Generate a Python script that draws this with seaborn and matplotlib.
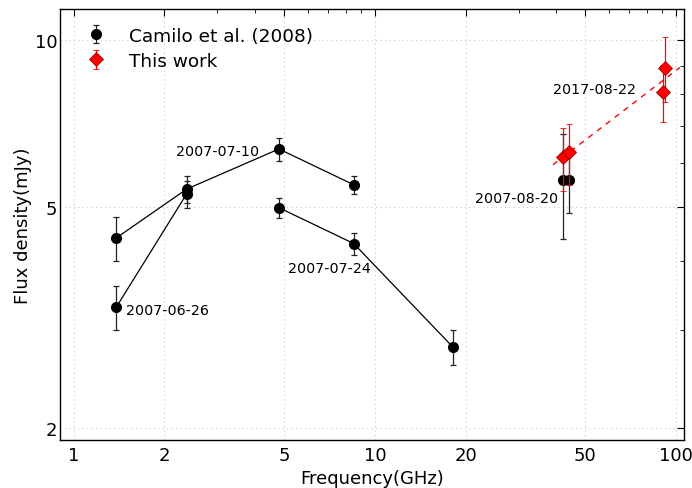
import numpy as np
import pandas as pd
import matplotlib
matplotlib.use("Agg")
import matplotlib.pyplot as plt
import seaborn as sns
from matplotlib.ticker import FixedLocator, FixedFormatter, NullFormatter

# ---- data ----
epochs = ["2007-06-26", "2007-07-10", "2007-07-24", "2007-08-20"]
freq_0626 = [1.384, 2.368]
flux_0626 = [3.30, 5.28]
err_0626 = [0.30, 0.30]
freq_0710 = [1.384, 2.368, 4.8, 8.5]
flux_0710 = [4.40, 5.39, 6.37, 5.49]
err_0710 = [0.40, 0.30, 0.30, 0.20]
freq_0724 = [4.8, 8.5, 18.1]
flux_0724 = [4.99, 4.30, 2.80]
err_0724 = [0.20, 0.20, 0.20]
freq_0820 = [42.0, 44.0]
flux_0820 = [5.59, 5.59]
err_0820 = [1.20, 0.70]
freq_this = [42.0, 44.0, 90.5, 92.0]
flux_this = [6.15, 6.28, 8.08, 8.93]
err_this = [0.80, 0.80, 0.95, 1.20]

x_ticks = [1, 2, 5, 10, 20, 50, 100]
y_ticks = [2, 5, 10]
legend_labels = ["Camilo et al. (2008)", "This work"]

sns.set_style("white")
plt.rcParams["font.family"] = ["DejaVu Sans"]
plt.rcParams["text.color"] = "black"
plt.rcParams["axes.labelcolor"] = "black"
plt.rcParams["xtick.color"] = "black"
plt.rcParams["ytick.color"] = "black"

fig = plt.figure(figsize=(6.92, 4.89), dpi=100)
ax = fig.add_axes([0.0867, 0.0982, 0.9013, 0.8814])

# connecting lines for Camilo epochs
lines_df = pd.concat([
    pd.DataFrame({"freq": freq_0626, "flux": flux_0626, "epoch": epochs[0]}),
    pd.DataFrame({"freq": freq_0710, "flux": flux_0710, "epoch": epochs[1]}),
    pd.DataFrame({"freq": freq_0724, "flux": flux_0724, "epoch": epochs[2]}),
])
sns.lineplot(data=lines_df, x="freq", y="flux", hue="epoch", units="epoch",
             estimator=None, palette=["black"] * 3, linewidth=0.9, ax=ax,
             legend=False)

# Camilo points with error bars
cam_kw = dict(fmt="o", color="black", ecolor="#222222", markersize=7,
              elinewidth=0.9, capsize=2.5, capthick=0.9, zorder=3)
first = True
for f, s, e in [(freq_0626, flux_0626, err_0626), (freq_0710, flux_0710, err_0710),
                (freq_0724, flux_0724, err_0724), (freq_0820, flux_0820, err_0820)]:
    ax.errorbar(f, s, yerr=e, label=legend_labels[0] if first else None, **cam_kw)
    first = False

# this work points
ax.errorbar(freq_this, flux_this, yerr=err_this, fmt="D", color="red",
            markeredgecolor="#990000", markeredgewidth=0.6, ecolor="red",
            markersize=7, elinewidth=0.9, capsize=2.5, capthick=0.9, zorder=4,
            label=legend_labels[1])

# power-law fit to this work
lf = np.log10(freq_this)
ls = np.log10(flux_this)
slope, icpt = np.polyfit(lf, ls, 1)
fx = np.logspace(np.log10(39.0), np.log10(103.0), 50)
sns.lineplot(x=fx, y=10 ** (icpt + slope * np.log10(fx)), ax=ax, color="red",
             linestyle=(0, (4, 4)), linewidth=1.0, zorder=2)

# annotations
ann_kw = dict(fontsize=10.3, va="center", ha="left", color="black")
ax.text(1.49, 3.26, "2007-06-26", **ann_kw)
ax.text(2.18, 6.31, "2007-07-10", **ann_kw)
ax.text(5.14, 3.88, "2007-07-24", **ann_kw)
ax.text(21.5, 5.19, "2007-08-20", **ann_kw)
ax.text(39.0, 8.16, "2017-08-22", **ann_kw)

ax.set_xscale("log")
ax.set_yscale("log")
ax.set_xlim(0.9, 106)
ax.set_ylim(1.9, 11.4)
ax.xaxis.set_major_locator(FixedLocator(x_ticks))
ax.xaxis.set_major_formatter(FixedFormatter([str(t) for t in x_ticks]))
ax.xaxis.set_minor_locator(FixedLocator([3, 4, 6, 7, 8, 9, 30, 40, 60, 70, 80, 90]))
ax.xaxis.set_minor_formatter(NullFormatter())
ax.yaxis.set_major_locator(FixedLocator(y_ticks))
ax.yaxis.set_major_formatter(FixedFormatter([str(t) for t in y_ticks]))
ax.yaxis.set_minor_locator(FixedLocator([3, 4, 6, 7, 8, 9]))
ax.yaxis.set_minor_formatter(NullFormatter())

ax.tick_params(which="both", direction="in", top=True, right=True, colors="black",
               labelsize=13)
ax.tick_params(which="major", length=5, width=0.8)
ax.tick_params(which="minor", length=3, width=0.6)
ax.tick_params(axis="y", which="major", pad=2)
ax.tick_params(axis="x", which="major", pad=4)
for sp in ax.spines.values():
    sp.set_color("black")
    sp.set_linewidth(1.0)

ax.grid(True, which="major", linestyle=(0, (1, 3)), color="#c8c8c8", linewidth=0.8)

ax.set_xlabel("Frequency(GHz)", fontsize=13, labelpad=4)
ax.set_ylabel("Flux density(mJy)", fontsize=13, labelpad=2)

ax.legend(loc="upper left", frameon=False, fontsize=13.3, numpoints=1,
          handletextpad=0.8, borderaxespad=0.55, labelspacing=0.4)

fig.savefig("out.png", dpi=100)
